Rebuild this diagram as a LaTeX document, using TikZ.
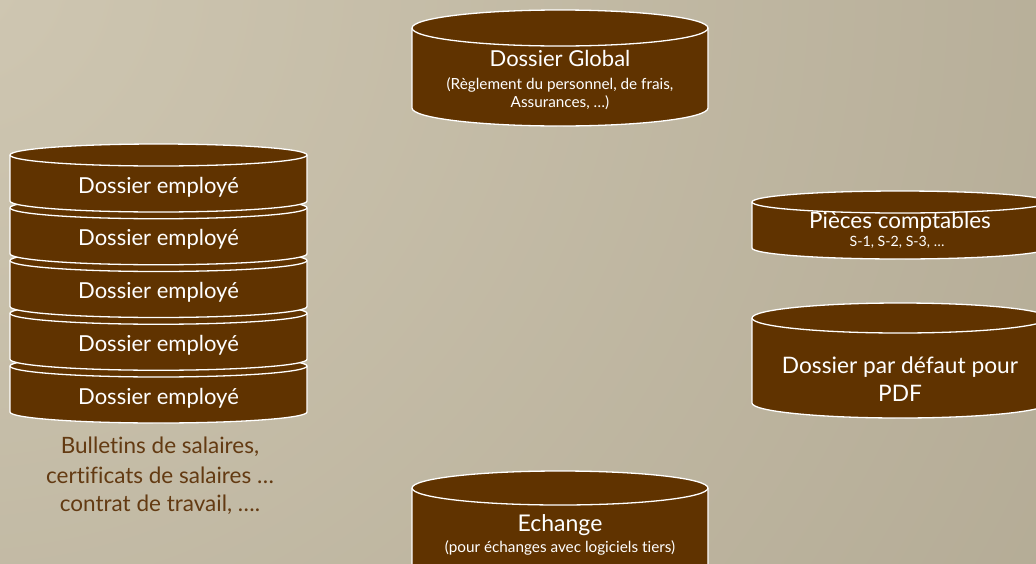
\documentclass[tikz,border=0pt]{standalone}
\usepackage{fontspec}
\setmainfont[Ligatures={CommonOff}]{Lato}
\definecolor{cylfill}{HTML}{603300}
\definecolor{labelbrown}{HTML}{633A12}
\definecolor{bgLight}{HTML}{CFC7B2}
\definecolor{bgDark}{HTML}{A69D87}
\tikzset{
  cylbody/.style={fill=cylfill, draw=white, line width=1.3pt},
  cylline/.style={draw=white, line width=1.3pt},
  wtxt/.style={text=white, inner sep=0pt, anchor=base},
  btxt/.style={text=labelbrown, inner sep=0pt, anchor=base},
}
% #1 cx, #2 top-ellipse centre y (downwards), #3 rx, #4 ry, #5 body height
\newcommand\drawcylinder[5]{%
  \path[cylbody] (#1-#3,-#2) -- ++(0,-#5)
     arc[start angle=180,end angle=360,x radius=#3,y radius=#4]
     -- (#1+#3,-#2)
     arc[start angle=0,end angle=180,x radius=#3,y radius=#4] -- cycle;
  \draw[cylline] (#1-#3,-#2) arc[start angle=180,end angle=360,x radius=#3,y radius=#4];
}
\begin{document}
\begin{tikzpicture}[x=1pt,y=1pt]
\useasboundingbox (0,0) rectangle (1036,-563);
\begin{scope}
\clip (0,0) rectangle (1036,-563);
\shade[inner color=bgLight, outer color=bgDark] (-50,30) circle (1950);
% employee stack (bottom first)
\drawcylinder{158.5}{366}{148.5}{11}{46}
\drawcylinder{158.5}{313.25}{148.5}{11}{46}
\drawcylinder{158.5}{260.5}{148.5}{11}{46}
\drawcylinder{158.5}{207.75}{148.5}{11}{46}
\drawcylinder{158.5}{155}{148.5}{11}{46}
% Dossier Global
\drawcylinder{560}{28}{148}{18}{80}
% Pieces comptables
\drawcylinder{900}{202}{148}{11}{46}
% Dossier par defaut
\drawcylinder{900}{318}{148}{15}{85}
% Echange
\drawcylinder{560}{488}{148}{17}{120}
\end{scope}
% texts
\node[wtxt, font=\fontsize{22}{26}\selectfont] (emp1) at (158.5,-193) {Dossier employé};
\node[wtxt, font=\fontsize{22}{26}\selectfont] (emp2) at (158.5,-245.75) {Dossier employé};
\node[wtxt, font=\fontsize{22}{26}\selectfont] (emp3) at (158.5,-298.5) {Dossier employé};
\node[wtxt, font=\fontsize{22}{26}\selectfont] (emp4) at (158.5,-351.25) {Dossier employé};
\node[wtxt, font=\fontsize{22}{26}\selectfont] (emp5) at (158.5,-404) {Dossier employé};
\node[btxt, font=\fontsize{22.5}{26}\selectfont] (bul1) at (160,-453) {Bulletins de salaires,};
\node[btxt, font=\fontsize{22.5}{26}\selectfont] (bul2) at (160,-483) {certificats de salaires …};
\node[btxt, font=\fontsize{22.5}{26}\selectfont] (bul3) at (160,-511) {contrat de travail, ….};
\node[wtxt, font=\fontsize{22}{24}\selectfont] (glob) at (560,-66) {Dossier Global};
\node[wtxt, font=\fontsize{15.3}{17}\selectfont] (globa) at (560,-89) {(Règlement du personnel, de frais,};
\node[wtxt, font=\fontsize{15.3}{17}\selectfont] (globb) at (560,-107) {Assurances, …)};
\node[wtxt, font=\fontsize{22.5}{24}\selectfont] (piec) at (900,-228) {Pièces comptables};
\node[wtxt, font=\fontsize{14.2}{16}\selectfont] (pieca) at (897,-246) {S-1, S-2, S-3, …};
\node[wtxt, font=\fontsize{22.7}{26}\selectfont] (pdfa) at (900,-373) {Dossier par défaut pour};
\node[wtxt, font=\fontsize{22.7}{26}\selectfont] (pdfb) at (900,-401) {PDF};
\node[wtxt, font=\fontsize{23}{24}\selectfont] (ech) at (560,-531) {Echange};
\node[wtxt, font=\fontsize{15.3}{17}\selectfont] (echa) at (560,-552) {(pour échanges avec logiciels tiers)};
\end{tikzpicture}
\end{document}
